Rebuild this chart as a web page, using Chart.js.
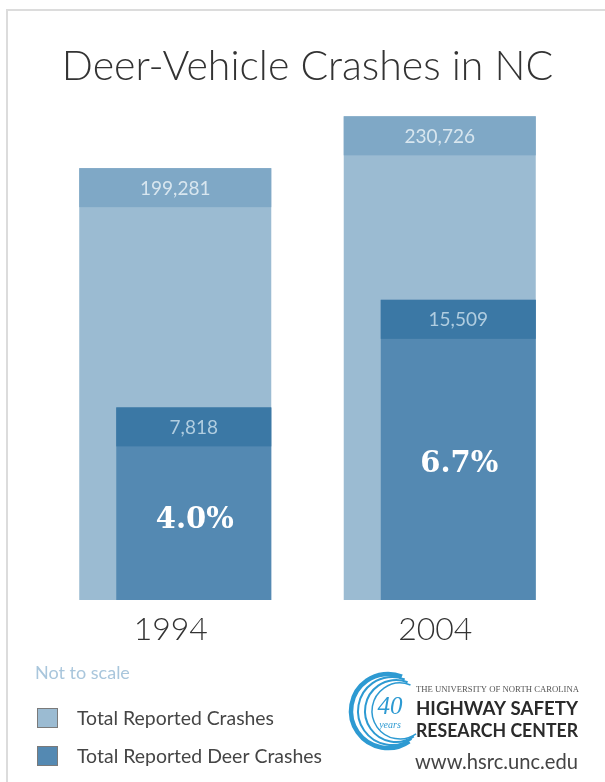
<!DOCTYPE html>
<html><head><meta charset="utf-8">
<script src="https://cdn.jsdelivr.net/npm/chart.js@4.4.1/dist/chart.umd.min.js"></script>
<style>html,body{margin:0;padding:0;background:#fff;}#wrap{width:605px;height:782px;}</style>
</head><body><div id="wrap"><canvas id="c" width="605" height="782"></canvas></div>
<script>
// ---- data ----
const titleText = 'Deer-Vehicle Crashes in NC';
const years = ['1994', '2004'];
const totalCrashes = [199281, 230726];
const deerCrashes = [7818, 15509];
const deerShare = ['4.0%', '6.7%'];
// the original is marked "Not to scale": bar lengths as drawn, 1994 total bar = 100
const totalBarLength = [100, 112];
const deerBarLength = [44.6, 69.5];
const seriesNames = ['Total Reported Crashes', 'Total Reported Deer Crashes'];
const footnote = 'Not to scale';
const logoLines = ['THE UNIVERSITY OF NORTH CAROLINA', 'HIGHWAY SAFETY', 'RESEARCH CENTER', 'www.hsrc.unc.edu'];

const FONT = 'Lato, "Open Sans", sans-serif';
const bodyColors = ['#9bbbd2', '#5489b2'];
const bandColors = ['#7fa8c6', '#3b78a5'];
const bandText = ['#d8e6ef', '#b0cde0'];
const BAND = 39;
const fmt = v => v.toLocaleString('en-US');

function fitText(ctx, text, x, y, width, font) {
  ctx.save();
  ctx.font = font;
  const w = ctx.measureText(text).width;
  ctx.translate(x, y);
  ctx.scale(width / w, 1);
  ctx.fillText(text, 0, 0);
  ctx.restore();
}

const framePlugin = {
  id: 'frame',
  beforeDraw(chart) {
    const ctx = chart.ctx;
    ctx.save();
    ctx.fillStyle = '#fff';
    ctx.fillRect(0, 0, chart.width, chart.height);
    ctx.strokeStyle = '#dcdcdc';
    ctx.lineWidth = 2;
    ctx.beginPath();
    ctx.moveTo(7, chart.height);
    ctx.lineTo(7, 10);
    ctx.lineTo(chart.width, 10);
    ctx.stroke();
    ctx.restore();
  }
};

const alignPlugin = {
  id: 'alignRight',
  afterDatasetsUpdate(chart) {
    const tot = chart.getDatasetMeta(0).data;
    const deer = chart.getDatasetMeta(1).data;
    deer.forEach((el, i) => {
      const t = tot[i];
      el.x = t.x + (t.width - el.width) / 2;
    });
  }
};

const bandPlugin = {
  id: 'bands',
  afterDatasetsDraw(chart) {
    const ctx = chart.ctx;
    const values = [totalCrashes, deerCrashes];
    [0, 1].forEach(d => {
      chart.getDatasetMeta(d).data.forEach((el, i) => {
        const left = el.x - el.width / 2;
        ctx.save();
        ctx.fillStyle = bandColors[d];
        ctx.fillRect(left, el.y, el.width, BAND);
        ctx.fillStyle = bandText[d];
        ctx.font = '19px ' + FONT;
        ctx.textAlign = 'center';
        ctx.textBaseline = 'middle';
        ctx.fillText(fmt(values[d][i]), el.x, el.y + BAND / 2 + 1);
        if (d === 1) {
          ctx.fillStyle = '#ffffff';
          ctx.font = 'bold 29px "DejaVu Serif", serif';
          const top = el.y + BAND, bot = el.base;
          ctx.fillText(deerShare[i], el.x + 1, top + (bot - top) * 0.48);
        }
        ctx.restore();
      });
    });
  }
};

const footerPlugin = {
  id: 'footer',
  afterDraw(chart) {
    const ctx = chart.ctx;
    ctx.save();
    ctx.textBaseline = 'middle';
    ctx.textAlign = 'left';
    ctx.fillStyle = '#a9c6dc';
    ctx.font = '18px ' + FONT;
    ctx.fillText(footnote, 35, 673);
    chart.data.datasets.forEach((ds, i) => {
      const y = 708 + i * 38;
      ctx.fillStyle = ds.backgroundColor;
      ctx.fillRect(37, y, 21, 20);
      ctx.strokeStyle = '#7a7a7a';
      ctx.lineWidth = 1;
      ctx.strokeRect(37.5, y + 0.5, 20, 19);
      ctx.fillStyle = '#454545';
      fitText(ctx, ds.label, 77, y + 11, i === 0 ? 197 : 245, '19px ' + FONT);
    });
    // logo
    ctx.strokeStyle = '#2d9ad2';
    const arcs = [[388, 711, 37, 4.5], [392, 711, 34, 2], [396, 711, 31, 2], [400, 711, 28, 1.5]];
    arcs.forEach(a => {
      ctx.lineWidth = a[3];
      ctx.beginPath();
      ctx.arc(a[0], a[1], a[2], 55 * Math.PI / 180, 292 * Math.PI / 180);
      ctx.stroke();
    });
    ctx.fillStyle = '#2d9ad2';
    ctx.textAlign = 'center';
    ctx.font = 'italic 25px "Liberation Serif", serif';
    ctx.fillText('40', 390, 707);
    ctx.font = 'italic 10px "Liberation Serif", serif';
    ctx.fillText('years', 390, 725);
    ctx.textAlign = 'left';
    ctx.fillStyle = '#555';
    fitText(ctx, logoLines[0], 416, 690, 163, '8px "Liberation Serif", serif');
    ctx.fillStyle = '#2a2a2a';
    fitText(ctx, logoLines[1], 416, 709, 162, 'bold 19px ' + FONT);
    fitText(ctx, logoLines[2], 416, 731, 162, 'bold 19px ' + FONT);
    ctx.fillStyle = '#444';
    fitText(ctx, logoLines[3], 415, 762, 163, '21px ' + FONT);
    ctx.restore();
  }
};

new Chart(document.getElementById('c'), {
  type: 'bar',
  data: {
    labels: years,
    datasets: [
      { label: seriesNames[0], data: totalBarLength, backgroundColor: bodyColors[0],
        grouped: false, categoryPercentage: 1, barPercentage: 0.726, order: 1 },
      { label: seriesNames[1], data: deerBarLength, backgroundColor: bodyColors[1],
        grouped: false, categoryPercentage: 1, barPercentage: 0.586, order: 0 }
    ]
  },
  options: {
    responsive: false,
    animation: false,
    devicePixelRatio: 1,
    layout: { padding: { left: 43, right: 33, top: 0, bottom: 0 } },
    plugins: {
      legend: { display: false },
      tooltip: { enabled: false },
      title: {
        display: true, text: titleText, color: '#333',
        font: { family: FONT, size: 41, weight: 300, lineHeight: 1.2 },
        padding: { top: 42, bottom: 10 }
      }
    },
    scales: {
      x: {
        grid: { display: false, drawTicks: false },
        border: { display: false },
        ticks: { color: '#333', font: { family: FONT, size: 32, weight: 300 }, padding: 10, labelOffset: -4.5 },
        afterFit(s) { s.height = 182; }
      },
      y: { display: false, min: 0, max: 115.5 }
    }
  },
  plugins: [framePlugin, alignPlugin, bandPlugin, footerPlugin]
});
</script></body></html>
